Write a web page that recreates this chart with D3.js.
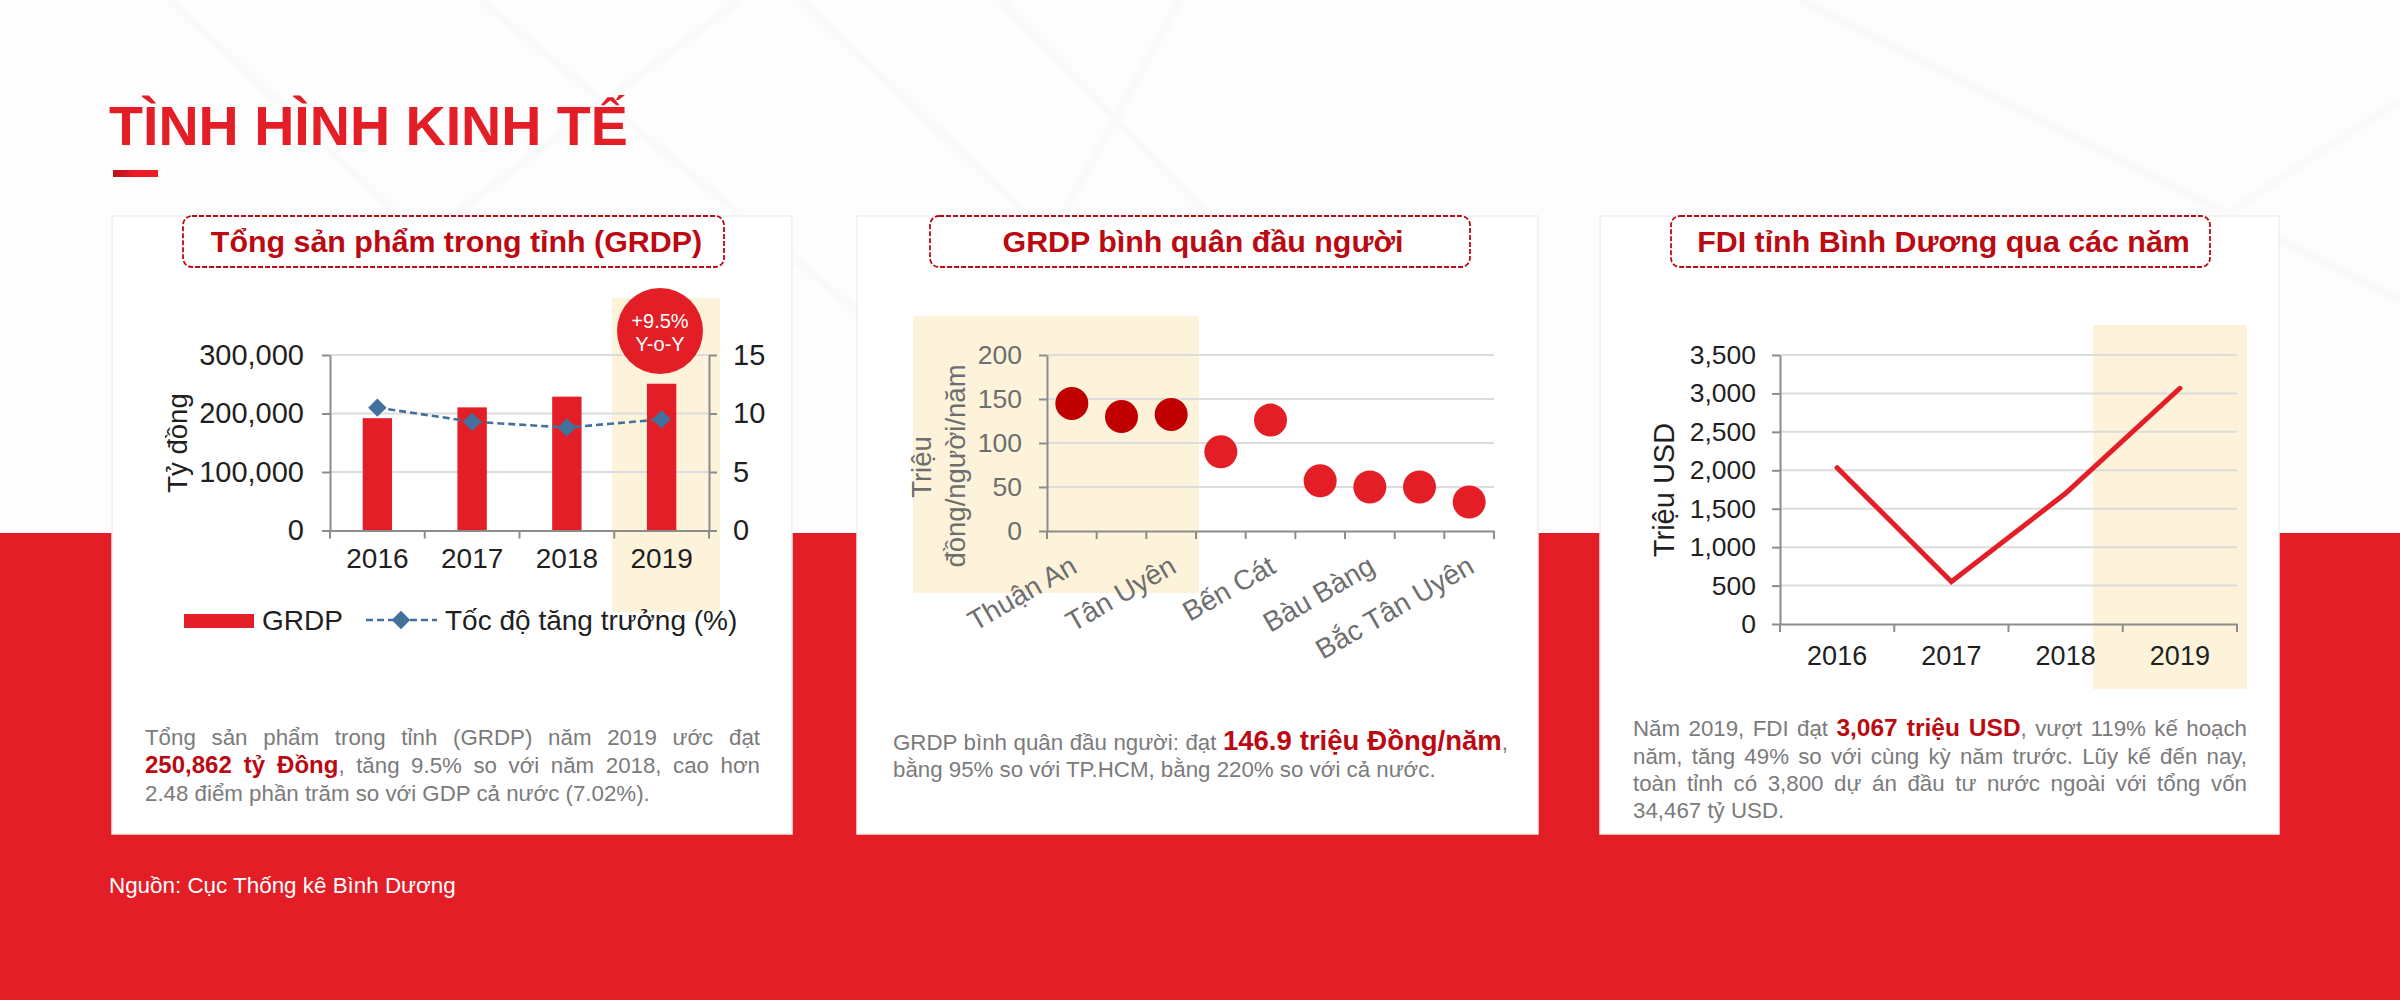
<!DOCTYPE html>
<html>
<head>
<meta charset="utf-8">
<title>TÌNH HÌNH KINH TẾ</title>
<script src="https://cdn.jsdelivr.net/npm/d3@7"></script>
<style>
  html, body { margin: 0; padding: 0; background: #fff; }
  svg { display: block; }
  text { font-family: "Liberation Sans", Arial, sans-serif; }
</style>
</head>
<body>
<div id="chart"></div>
<script>
// GRDP chart
const grdpYears = ["2016", "2017", "2018", "2019"];
const grdpValues = [192000, 210500, 228800, 250862];
const growthRates = [10.5, 9.3, 8.8, 9.5];
const grdpTicks = [0, 100000, 200000, 300000];
const growthTicks = [0, 5, 10, 15];

// GRDP per capita chart (only every other district is labelled in the picture)
const districts = ["Thuận An", "Dĩ An", "Tân Uyên", "Thủ Dầu Một", "Bến Cát", "Dầu Tiếng", "Bàu Bàng", "Phú Giáo", "Bắc Tân Uyên"];
const districtLabels = ["Thuận An", "Tân Uyên", "Bến Cát", "Bàu Bàng", "Bắc Tân Uyên"];
const perCapita = [145, 130, 132.5, 90, 126, 57, 50, 50, 33];
const perCapitaTicks = [0, 50, 100, 150, 200];

// FDI chart
const fdiYears = ["2016", "2017", "2018", "2019"];
const fdiValues = [2034, 551, 1700, 3067];
const fdiTicks = [0, 500, 1000, 1500, 2000, 2500, 3000, 3500];

const RED = "#e31e26", DARK_RED = "#bb0a12", CREAM = "#fdf3da";
const GRID = "#dcdcdc", AXIS = "#8c8c8c", INK = "#1f1f1f", GRAY = "#6e6e6e", BODY = "#7b7b7b";

const svg = d3.select("#chart").append("svg").attr("width", 2400).attr("height", 1000);
const defs = svg.append("defs");

const accent = defs.append("linearGradient").attr("id", "accent");
accent.append("stop").attr("offset", "0%").attr("stop-color", "#b8121a");
accent.append("stop").attr("offset", "50%").attr("stop-color", "#ed1c24");

// faint background strokes on the white part
svg.append("rect").attr("width", 2400).attr("height", 533).attr("fill", "#fdfdfe");
const bgLines = [
  [[170, 0], [520, 330]], [[480, 0], [880, 330]], [[800, 0], [1150, 330]], [[1000, 0], [1320, 330]],
  [[740, 0], [300, 330]], [[1180, 0], [1000, 330]], [[2400, 100], [2050, 330]], [[1800, 0], [2400, 300]]
];
svg.append("g").selectAll("path").data(bgLines).join("path")
  .attr("d", d3.line())
  .attr("fill", "none")
  .attr("stroke", "#fafafb")
  .attr("stroke-width", 8);

svg.append("rect").attr("x", 0).attr("y", 533).attr("width", 2400).attr("height", 467).attr("fill", RED);

svg.append("text").attr("x", 109).attr("y", 145)
  .attr("font-size", 55.6).attr("font-weight", "bold").attr("fill", RED)
  .text("TÌNH HÌNH KINH TẾ");
svg.append("rect").attr("x", 113).attr("y", 170).attr("width", 45).attr("height", 7).attr("fill", "url(#accent)");

svg.append("text").attr("x", 109).attr("y", 893)
  .attr("font-size", 22.4).attr("fill", "#fff")
  .text("Nguồn: Cục Thống kê Bình Dương");

function card(x0, x1, boxX0, boxX1, title) {
  svg.append("rect").attr("x", x0).attr("y", 216).attr("width", x1 - x0).attr("height", 618)
    .attr("fill", "#fff").attr("stroke", "#efefef").attr("stroke-width", 1.5);
  svg.append("rect").attr("x", boxX0).attr("y", 216).attr("width", boxX1 - boxX0).attr("height", 51)
    .attr("rx", 9).attr("fill", "#fff").attr("stroke", DARK_RED)
    .attr("stroke-width", 1.8).attr("stroke-dasharray", "5,2");
  // the heading sits a little right of the box centre
  svg.append("text").attr("x", (boxX0 + boxX1) / 2 + 3).attr("y", 252)
    .attr("text-anchor", "middle").attr("font-size", 30.4).attr("font-weight", "bold")
    .attr("fill", DARK_RED).text(title);
}

// justified text: word-spacing is worked out per line from the measured length
function paragraph(x, width, lines) {
  lines.forEach(line => {
    const t = svg.append("text").attr("x", x).attr("y", line.y).attr("font-size", 22.3).attr("fill", BODY);
    line.parts.forEach(p => {
      const s = t.append("tspan").text(p.text);
      if (p.size) s.attr("font-size", p.size).attr("font-weight", "bold").attr("fill", DARK_RED);
    });
    if (line.justify) {
      const gaps = line.parts.map(p => p.text).join("").split(" ").length - 1;
      t.attr("word-spacing", (width - t.node().getComputedTextLength()) / gaps);
    }
  });
}

function styleAxis(g, size, color) {
  g.selectAll(".domain").attr("stroke", AXIS).attr("stroke-width", 2);
  g.selectAll(".tick line").attr("stroke", AXIS).attr("stroke-width", 2);
  g.selectAll(".tick text").attr("font-size", size).attr("fill", color).style("font-family", '"Liberation Sans"');
}

function gridLines(scale, ticks, x0, x1) {
  svg.append("g").selectAll("line").data(ticks.filter(d => d > 0)).join("line")
    .attr("x1", x0).attr("x2", x1)
    .attr("y1", d => scale(d)).attr("y2", d => scale(d))
    .attr("stroke", GRID).attr("stroke-width", 2);
}

// tick marks sit on the band edges, the labels on the band centres
function bottomAxis(scale, y, size, color, labels, labelDy) {
  const g = svg.append("g").attr("transform", `translate(0,${y})`)
    .call(d3.axisBottom(scale).tickSize(0).tickPadding(labelDy).tickValues(labels || scale.domain()));
  styleAxis(g, size, color);
  const edges = scale.domain().map(d => scale(d)).concat(scale.range()[1]);
  g.selectAll(".edge").data(edges).join("line").attr("class", "edge")
    .attr("x1", d => d).attr("x2", d => d).attr("y1", 0).attr("y2", 8)
    .attr("stroke", AXIS).attr("stroke-width", 2);
  return g;
}

function leftAxis(scale, ticks, x, size, color, pad, fmt) {
  const g = svg.append("g").attr("transform", `translate(${x},0)`)
    .call(d3.axisLeft(scale).tickValues(ticks).tickSize(8).tickSizeOuter(0).tickPadding(pad).tickFormat(fmt));
  styleAxis(g, size, color);
  return g;
}

function axisTitle(x, y, text, size, color) {
  svg.append("text").attr("transform", `translate(${x},${y}) rotate(-90)`)
    .attr("text-anchor", "middle").attr("dy", "0.35em")
    .attr("font-size", size).attr("fill", color).text(text);
}

const comma = d3.format(",");

// ---- GRDP ----
card(112, 792, 183, 724, "Tổng sản phẩm trong tỉnh (GRDP)");
svg.append("rect").attr("x", 612).attr("y", 298).attr("width", 108).attr("height", 314).attr("fill", CREAM);

const x1 = d3.scaleBand().domain(grdpYears).range([330, 709]);
const y1 = d3.scaleLinear().domain([0, 300000]).range([530.5, 355]);
const y1r = d3.scaleLinear().domain([0, 15]).range([530.5, 355]);

gridLines(y1, grdpTicks, 330, 709);
const barW = x1.bandwidth() * 0.31;
svg.append("g").selectAll("rect").data(grdpYears).join("rect")
  .attr("x", d => x1(d) + (x1.bandwidth() - barW) / 2)
  .attr("y", (d, i) => y1(grdpValues[i]))
  .attr("width", barW)
  .attr("height", (d, i) => y1(0) - y1(grdpValues[i]))
  .attr("fill", RED);

leftAxis(y1, grdpTicks, 330, 29, INK, 18, comma);
const rightAxis = svg.append("g").attr("transform", "translate(709,0)")
  .call(d3.axisRight(y1r).tickValues(growthTicks).tickSize(8).tickSizeOuter(0).tickPadding(16));
styleAxis(rightAxis, 29, INK);
bottomAxis(x1, 530.5, 28, INK, null, 18);
axisTitle(177, 443, "Tỷ đồng", 27.5, INK);

const growthLine = d3.line()
  .x((d, i) => x1(grdpYears[i]) + x1.bandwidth() / 2)
  .y(d => y1r(d));
svg.append("path").datum(growthRates).attr("d", growthLine)
  .attr("fill", "none").attr("stroke", "#41719c").attr("stroke-width", 2.6).attr("stroke-dasharray", "7,4");
const diamond = d3.symbol().type(d3.symbolSquare).size(170);
svg.append("g").selectAll("path").data(growthRates).join("path")
  .attr("d", diamond)
  .attr("transform", (d, i) => `translate(${x1(grdpYears[i]) + x1.bandwidth() / 2},${y1r(d)}) rotate(45)`)
  .attr("fill", "#41719c");

svg.append("circle").attr("cx", 660).attr("cy", 331).attr("r", 43).attr("fill", RED);
svg.append("text").attr("x", 660).attr("y", 328).attr("text-anchor", "middle")
  .attr("font-size", 20).attr("fill", "#fff").text("+9.5%");
svg.append("text").attr("x", 660).attr("y", 351).attr("text-anchor", "middle")
  .attr("font-size", 20).attr("fill", "#fff").text("Y-o-Y");

// legend
svg.append("rect").attr("x", 184).attr("y", 614).attr("width", 70).attr("height", 14).attr("fill", RED);
svg.append("text").attr("x", 262).attr("y", 629.5).attr("font-size", 28).attr("fill", INK).text("GRDP");
svg.append("line").attr("x1", 366).attr("x2", 437).attr("y1", 620).attr("y2", 620)
  .attr("stroke", "#41719c").attr("stroke-width", 2.6).attr("stroke-dasharray", "7,4");
svg.append("path").attr("d", diamond).attr("transform", "translate(401,620) rotate(45)").attr("fill", "#41719c");
svg.append("text").attr("x", 445).attr("y", 629.5).attr("font-size", 28).attr("fill", INK).text("Tốc độ tăng trưởng (%)");

paragraph(145, 615, [
  { y: 745, justify: true, parts: [{ text: "Tổng sản phẩm trong tỉnh (GRDP) năm 2019 ước đạt" }] },
  { y: 773, justify: true, parts: [{ text: "250,862 tỷ Đồng", size: 24 }, { text: ", tăng 9.5% so với năm 2018, cao hơn" }] },
  { y: 801, parts: [{ text: "2.48 điểm phần trăm so với GDP cả nước (7.02%)." }] }
]);

// ---- GRDP per capita ----
card(857, 1538, 930, 1470, "GRDP bình quân đầu người");
svg.append("rect").attr("x", 913).attr("y", 316).attr("width", 286).attr("height", 277).attr("fill", CREAM);

const x2 = d3.scaleBand().domain(districts).range([1047, 1494]);
const y2 = d3.scaleLinear().domain([0, 200]).range([531, 355]);

gridLines(y2, perCapitaTicks, 1047, 1494);
leftAxis(y2, perCapitaTicks, 1047, 26.5, GRAY, 17);
const g2 = bottomAxis(x2, 531, 28, GRAY, districtLabels, 18);
g2.selectAll(".tick text")
  .attr("text-anchor", "end")
  .attr("transform", "translate(2,32) rotate(-30)")
  .attr("dy", "0.35em")
  .attr("y", 0);

svg.append("g").selectAll("circle").data(perCapita).join("circle")
  .attr("cx", (d, i) => x2(districts[i]) + x2.bandwidth() / 2)
  .attr("cy", d => y2(d))
  .attr("r", 16.5)
  .attr("fill", (d, i) => i < 3 ? "#c00000" : RED);

axisTitle(921, 467, "Triệu", 27.5, GRAY);
axisTitle(955, 466, "đồng/người/năm", 27.5, GRAY);

paragraph(893, 615, [
  { y: 750, justify: true, parts: [{ text: "GRDP bình quân đầu người: đạt " }, { text: "146.9 triệu Đồng/năm", size: 27.5 }, { text: "," }] },
  { y: 777, parts: [{ text: "bằng 95% so với TP.HCM, bằng 220% so với cả nước." }] }
]);

// ---- FDI ----
card(1600, 2279, 1671, 2210, "FDI tỉnh Bình Dương qua các năm");
svg.append("rect").attr("x", 2093).attr("y", 325).attr("width", 154).attr("height", 364).attr("fill", CREAM);

const x3 = d3.scaleBand().domain(fdiYears).range([1780, 2237]);
const y3 = d3.scaleLinear().domain([0, 3500]).range([624, 355]);

gridLines(y3, fdiTicks, 1780, 2237);
leftAxis(y3, fdiTicks, 1780, 26.5, INK, 16, comma);
bottomAxis(x3, 624, 27, INK, null, 22);
axisTitle(1664, 490, "Triệu USD", 29, INK);

const fdiLine = d3.line()
  .x((d, i) => x3(fdiYears[i]) + x3.bandwidth() / 2)
  .y(d => y3(d));
svg.append("path").datum(fdiValues).attr("d", fdiLine)
  .attr("fill", "none").attr("stroke", RED).attr("stroke-width", 5).attr("stroke-linecap", "round");

paragraph(1633, 614, [
  { y: 736, justify: true, parts: [{ text: "Năm 2019, FDI đạt " }, { text: "3,067 triệu USD", size: 24.5 }, { text: ", vượt 119% kế hoạch" }] },
  { y: 764, justify: true, parts: [{ text: "năm, tăng 49% so với cùng kỳ năm trước. Lũy kế đến nay," }] },
  { y: 791, justify: true, parts: [{ text: "toàn tỉnh có 3,800 dự án đầu tư nước ngoài với tổng vốn" }] },
  { y: 818, parts: [{ text: "34,467 tỷ USD." }] }
]);
</script>
</body>
</html>
